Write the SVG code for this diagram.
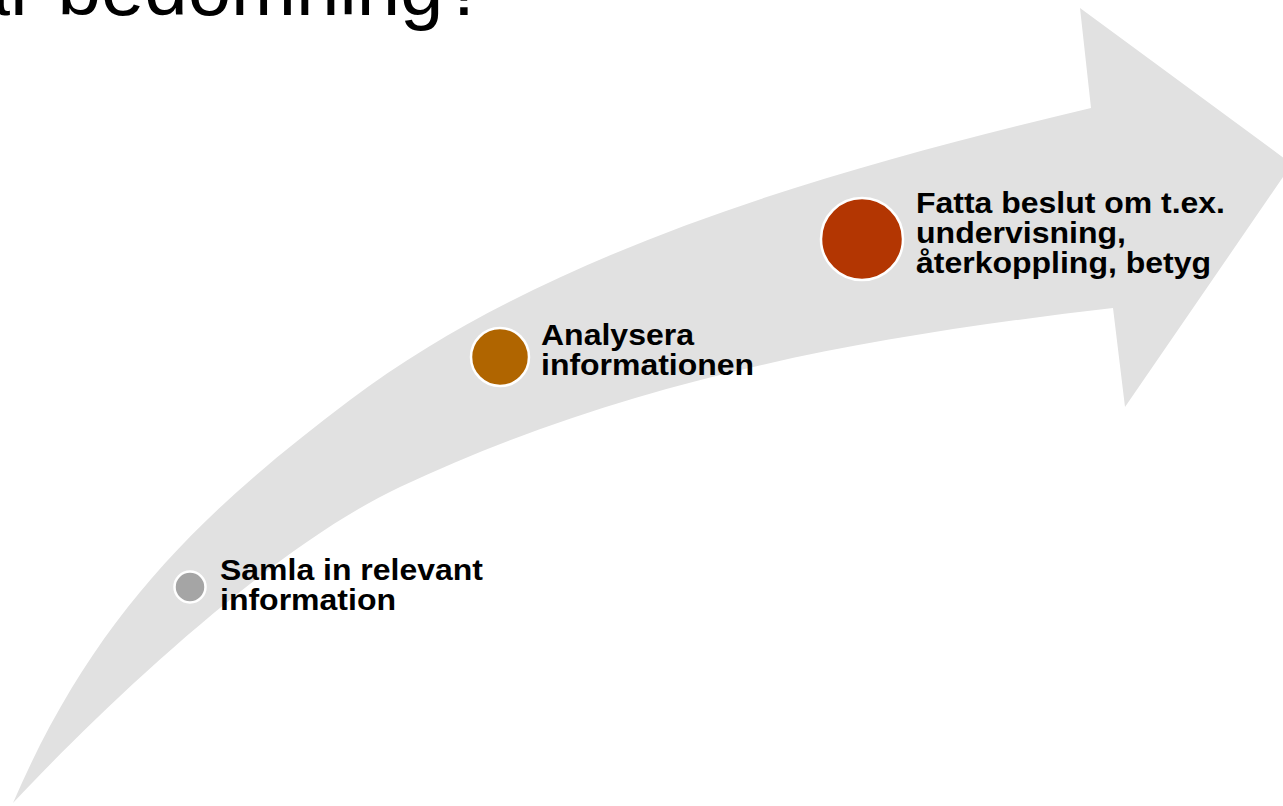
<svg xmlns="http://www.w3.org/2000/svg" width="1283" height="806" viewBox="0 0 1283 806">
<style>
.lbl{font-family:"Liberation Sans",Arial,sans-serif;font-weight:bold;font-size:30px;fill:#000}
.title{font-family:"Liberation Sans",Arial,sans-serif;font-size:78px;fill:#000}
.dot{stroke:#fff;stroke-width:2.5}
</style>
<rect width="1283" height="806" fill="#fff"/>
<text class="title" x="-33.5" y="15">är bedömning?</text>
<g id="connectors">
<path id="arrow" fill="#e1e1e1" d="M13,803 C93,617 200,513 350,400 C550,249 841,167 1091,108 L1080,8 L1292,164 L1125,407 L1113,308 C863,337 630,379 400,487 C270,548 103,707 13,803 Z"/>
</g>
<g id="node-samla">
<circle class="dot" cx="190" cy="587" r="15.5" fill="#a5a5a5"/>
<text class="lbl" x="220" y="580" textLength="263" lengthAdjust="spacingAndGlyphs">Samla in relevant</text>
<text class="lbl" x="220" y="610" textLength="176" lengthAdjust="spacingAndGlyphs">information</text>
</g>
<g id="node-analysera">
<circle class="dot" cx="500" cy="357" r="29" fill="#b06500"/>
<text class="lbl" x="541" y="345" textLength="153" lengthAdjust="spacingAndGlyphs">Analysera</text>
<text class="lbl" x="541" y="375" textLength="213" lengthAdjust="spacingAndGlyphs">informationen</text>
</g>
<g id="node-fatta">
<circle class="dot" cx="862" cy="239" r="41" fill="#b33602"/>
<text class="lbl" x="916" y="213" textLength="309" lengthAdjust="spacingAndGlyphs">Fatta beslut om t.ex.</text>
<text class="lbl" x="916" y="243" textLength="210" lengthAdjust="spacingAndGlyphs">undervisning,</text>
<text class="lbl" x="916" y="273" textLength="295" lengthAdjust="spacingAndGlyphs">återkoppling, betyg</text>
</g>
</svg>
